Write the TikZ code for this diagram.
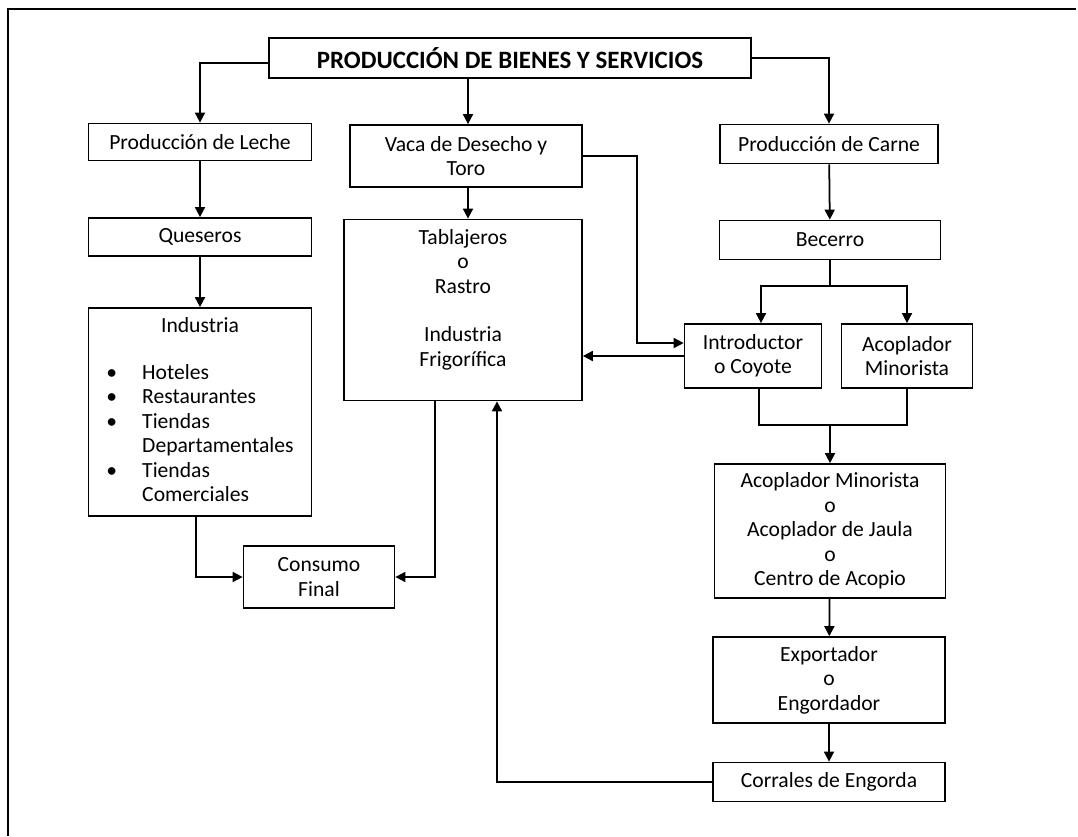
\documentclass[tikz,border=0pt]{standalone}
\usepackage{fontspec}
\setmainfont{Carlito}
\usepackage{tikz}
\usetikzlibrary{arrows, arrows.meta, positioning}

\tikzset{
	caja/.style={draw=black, line width=1pt, align=center, inner sep=2pt,
		font=\fontsize{12.3}{13.9}\selectfont},
	flecha/.style={-{Triangle[length=2mm, width=2mm]}, line width=1pt},
	linea/.style={line width=1pt}
}

\begin{document}
\begin{tikzpicture}[x=0.02cm, y=-0.02cm]
	\useasboundingbox (0,0) rectangle (1078,836);
	\draw[line width=0.8pt] (8,836) -- (8,9) -- (1076,9);
	
	% fila superior
	\node[caja, minimum width=9.64cm, minimum height=0.8cm] (titulo) at (510,58)
		{\fontsize{14.2}{15}\selectfont\bfseries PRODUCCIÓN DE BIENES Y SERVICIOS};
	\node[caja, minimum width=4.46cm, minimum height=0.74cm] (leche) at (200,142) {Producción de Leche};
	\node[caja, minimum width=4.64cm, minimum height=1.24cm] (vaca) at (466,156) {Vaca de Desecho y\\Toro};
	\node[caja, minimum width=4.36cm, minimum height=0.78cm] (carne) at (829,144) {Producción de Carne};
	
	% columna izquierda
	\node[caja, minimum width=4.46cm, minimum height=0.76cm] (queseros) at (200,237) {Queseros};
	\node[caja, minimum width=4.46cm, minimum height=4.16cm] (industria) at (200,412)
		{\begin{tabular}{@{}l@{\hspace{0.5cm}}l@{}}
			\multicolumn{2}{c}{Industria}\\[13pt]
			\textbullet & Hoteles\\
			\textbullet & Restaurantes\\
			\textbullet & Tiendas\\
			 & Departamentales\\
			\textbullet & Tiendas\\
			 & Comerciales
		\end{tabular}};
	\node[caja, minimum width=3.02cm, minimum height=1.24cm] (consumo) at (319,577) {Consumo\\Final};
	
	% columna central
	\node[caja, minimum width=4.76cm, minimum height=3.62cm] (tabla) at (463,310)
		{Tablajeros\\o\\Rastro\\[13.9pt]Industria\\Frigorífica\\ \mbox{}};
	
	% columna derecha
	\node[caja, minimum width=4.42cm, minimum height=0.78cm] (becerro) at (830,240) {Becerro};
	\node[caja, minimum width=2.74cm, minimum height=1.28cm] (intro) at (753,356) {Introductor\\o Coyote};
	\node[caja, minimum width=2.62cm, minimum height=1.28cm] (acopmin) at (907,356) {Acoplador\\Minorista};
	\node[caja, minimum width=4.62cm, minimum height=2.68cm] (acopio) at (830,531)
		{Acoplador Minorista\\o\\Acoplador de Jaula\\o\\Centro de Acopio};
	\node[caja, minimum width=4.64cm, minimum height=1.72cm] (export) at (829,680) {Exportador\\o\\Engordador};
	\node[caja, minimum width=4.64cm, minimum height=0.78cm] (corrales) at (829,782) {Corrales de Engorda};
	
	\coordinate (horq) at (830,286);
	\coordinate (union) at (830,425);
	
	% conectores
	\draw[flecha] ([yshift=-0.1cm]titulo.west) -| (leche.north);
	\draw[flecha] ([xshift=0.04cm]vaca.north |- titulo.south) -- ([xshift=0.04cm]vaca.north);
	\draw[flecha] (titulo.east) -| (carne.north);
	\draw[flecha] (leche) -- (queseros);
	\draw[flecha] (queseros) -- (industria);
	\draw[flecha] ([xshift=0.04cm]vaca.south) -- ([xshift=0.04cm]vaca.south |- tabla.north);
	\draw[flecha] (carne) -- (becerro);
	\draw[linea] (becerro.south) -- (horq);
	\draw[flecha] (horq) -| ([xshift=0.16cm]intro.north);
	\draw[flecha] (horq) -| (acopmin.north);
	\draw[flecha] (vaca.east) -- ++(1.08cm,0) |- ([yshift=0.26cm]intro.west);
	\draw[flecha] (intro.west) -- (intro.west -| tabla.east);
	\draw[linea] ([xshift=0.12cm]intro.south) |- (union) -| (acopmin.south);
	\draw[flecha] (union) -- (acopio.north);
	\draw[flecha] (acopio) -- (export);
	\draw[flecha] (export) -- (corrales);
	\draw[flecha] (corrales.west) -| ([xshift=0.68cm]tabla.south);
	\draw[flecha] ([xshift=-0.08cm]industria.south) |- (consumo.west);
	\draw[flecha] ([xshift=-0.56cm]tabla.south) |- (consumo.east);
\end{tikzpicture}
\end{document}
